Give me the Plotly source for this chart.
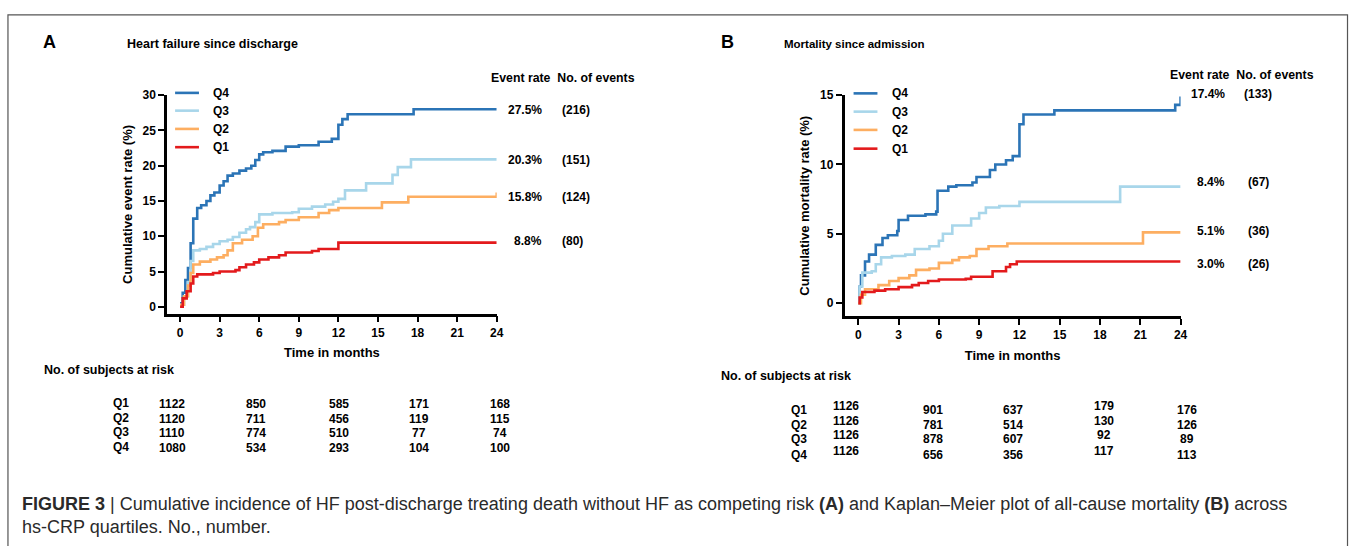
import plotly.graph_objects as go

W, H = 1357, 546

# ---------------- data ----------------
groups = ["Q4", "Q3", "Q2", "Q1"]
colors = {"Q4": "#2b74b6", "Q3": "#a8d6ea", "Q2": "#fdae61", "Q1": "#e31a1c"}

# Panel A: Heart failure since discharge (cumulative event rate %, months)
A_Q4_t = [0, 0.2, 0.4, 0.6, 0.8, 1.0, 1.3, 1.6, 2.0, 2.3, 2.6, 3.0, 3.3, 3.6, 4.0, 4.5, 5.0, 5.4, 5.7, 6.0, 6.3, 7.0, 8.0, 9.0, 10.5, 11.5, 12.0, 12.3, 12.7, 17.7, 24.0]
A_Q4_v = [0.5, 2.0, 3.8, 5.5, 9.0, 12.5, 14.0, 14.4, 15.0, 15.8, 16.2, 17.2, 17.8, 18.6, 18.9, 19.3, 19.6, 20.0, 20.8, 21.6, 21.9, 22.1, 22.7, 22.9, 23.4, 23.8, 25.8, 26.6, 27.3, 28.0, 28.0]
A_Q3_t = [0, 0.3, 0.6, 0.8, 1.0, 1.5, 2.0, 2.5, 3.0, 3.6, 4.0, 4.5, 5.0, 5.3, 5.7, 6.0, 7.0, 8.5, 9.0, 10.0, 11.0, 11.6, 12.0, 12.5, 14.1, 16.1, 16.5, 17.5, 24.0]
A_Q3_v = [0.3, 1.5, 3.5, 6.5, 8.0, 8.2, 8.5, 8.9, 9.3, 9.5, 9.9, 10.5, 11.0, 11.3, 12.0, 13.1, 13.3, 13.4, 13.9, 14.2, 14.5, 14.9, 15.3, 16.5, 17.5, 18.7, 19.8, 20.9, 20.9]
A_Q2_t = [0, 0.3, 0.6, 0.8, 1.0, 1.5, 2.3, 2.8, 3.3, 3.6, 4.0, 4.7, 5.5, 5.9, 6.3, 7.5, 8.0, 9.0, 10.5, 11.3, 12.0, 15.3, 17.3, 24.0]
A_Q2_v = [0.3, 1.5, 3.0, 4.8, 6.0, 6.4, 6.7, 7.0, 7.3, 8.0, 9.0, 9.5, 10.0, 11.2, 11.7, 12.0, 12.3, 12.7, 13.3, 13.7, 14.0, 14.8, 15.6, 16.2]
A_Q1_t = [0, 0.2, 0.5, 0.8, 1.0, 1.3, 2.5, 3.0, 4.2, 4.5, 5.0, 5.6, 6.0, 6.7, 7.5, 8.0, 10.0, 10.5, 12.0, 24.0]
A_Q1_v = [0.0, 1.2, 2.2, 3.3, 4.3, 4.6, 4.8, 5.0, 5.2, 5.6, 6.0, 6.3, 6.7, 7.0, 7.3, 7.7, 7.9, 8.2, 9.1, 9.1]

# Panel B: Mortality since admission (cumulative mortality rate %, months)
B_Q4_t = [0, 0.1, 0.2, 0.5, 0.8, 1.3, 1.8, 2.2, 2.9, 3.0, 3.7, 5.0, 5.8, 5.9, 6.7, 7.3, 8.5, 8.8, 9.8, 10.2, 11.0, 11.5, 12.0, 12.3, 14.6, 23.6, 24.0]
B_Q4_v = [0.0, 1.2, 2.0, 3.0, 3.5, 4.2, 4.7, 4.9, 5.2, 6.0, 6.3, 6.4, 6.6, 8.1, 8.4, 8.5, 8.7, 9.1, 9.6, 10.0, 10.3, 10.6, 12.9, 13.6, 13.9, 14.3, 14.9]
B_Q3_t = [0, 0.1, 0.3, 1.0, 1.3, 1.7, 2.5, 3.5, 4.2, 5.3, 6.0, 6.3, 7.0, 8.4, 9.0, 9.5, 10.5, 12.0, 19.5, 24.0]
B_Q3_v = [0.0, 1.2, 2.2, 2.3, 2.8, 3.3, 3.4, 3.5, 3.9, 4.1, 4.5, 5.0, 5.6, 6.1, 6.5, 6.9, 7.0, 7.3, 8.4, 8.4]
B_Q2_t = [0, 0.2, 0.5, 1.5, 2.3, 3.0, 3.8, 4.3, 5.3, 6.0, 7.0, 7.5, 8.3, 8.8, 9.7, 11.1, 21.2, 24.0]
B_Q2_v = [0.0, 0.6, 1.0, 1.3, 1.6, 1.8, 2.0, 2.4, 2.5, 2.9, 3.1, 3.3, 3.4, 3.9, 4.1, 4.3, 5.1, 5.1]
B_Q1_t = [0, 0.1, 0.3, 1.2, 2.0, 3.0, 4.0, 4.5, 5.2, 6.0, 8.0, 8.4, 10.0, 11.0, 11.3, 11.8, 24.0]
B_Q1_v = [0.0, 0.4, 0.8, 0.9, 1.0, 1.15, 1.3, 1.45, 1.6, 1.7, 1.75, 1.9, 2.3, 2.6, 2.8, 3.0, 3.0]

A_series = {"Q4": (A_Q4_t, A_Q4_v), "Q3": (A_Q3_t, A_Q3_v), "Q2": (A_Q2_t, A_Q2_v), "Q1": (A_Q1_t, A_Q1_v)}
B_series = {"Q4": (B_Q4_t, B_Q4_v), "Q3": (B_Q3_t, B_Q3_v), "Q2": (B_Q2_t, B_Q2_v), "Q1": (B_Q1_t, B_Q1_v)}

A_event_rate = ["27.5%", "20.3%", "15.8%", "8.8%"]
A_events = ["(216)", "(151)", "(124)", "(80)"]
B_event_rate = ["17.4%", "8.4%", "5.1%", "3.0%"]
B_events = ["(133)", "(67)", "(36)", "(26)"]

risk_groups = ["Q1", "Q2", "Q3", "Q4"]
A_risk = {"Q1": [1122, 850, 585, 171, 168], "Q2": [1120, 711, 456, 119, 115],
          "Q3": [1110, 774, 510, 77, 74], "Q4": [1080, 534, 293, 104, 100]}
B_risk = {"Q1": [1126, 901, 637, 179, 176], "Q2": [1126, 781, 514, 130, 126],
          "Q3": [1126, 878, 607, 92, 89], "Q4": [1126, 656, 356, 117, 113]}

x_ticks = [0, 3, 6, 9, 12, 15, 18, 21, 24]
A_y_ticks = [0, 5, 10, 15, 20, 25, 30]
B_y_ticks = [0, 5, 10, 15]

caption1 = ("<b>FIGURE 3</b> | Cumulative incidence of HF post-discharge treating death without HF as competing risk "
            "<b>(A)</b> and Kaplan\u2013Meier plot of all-cause mortality <b>(B)</b> across")
caption2 = "hs-CRP quartiles. No., number."

# ---------------- helpers ----------------
def px(x):
    return x / W

def py(y):
    return 1 - y / H

FONT = "Liberation Sans, Arial, sans-serif"

fig = go.Figure()
for g in groups:
    t, v = A_series[g]
    fig.add_trace(go.Scatter(x=t, y=v, mode="lines", line=dict(color=colors[g], width=2.6, shape="hv"),
                             xaxis="x", yaxis="y", showlegend=False))
for g in groups:
    t, v = B_series[g]
    fig.add_trace(go.Scatter(x=t, y=v, mode="lines", line=dict(color=colors[g], width=2.6, shape="hv"),
                             xaxis="x2", yaxis="y2", showlegend=False))

axis_common = dict(showgrid=False, zeroline=False, showline=True, linecolor="black", linewidth=2.5,
                   ticks="outside", ticklen=6, tickwidth=2, tickcolor="black",
                   tickfont=dict(family=FONT, size=12, color="black", weight="bold"))

fig.update_layout(
    width=W, height=H, margin=dict(l=0, r=0, t=0, b=0),
    paper_bgcolor="white", plot_bgcolor="white",
    xaxis=dict(domain=[px(168), px(499.3)], range=[-0.98, 24], tickvals=x_ticks, anchor="y",
               title=dict(text="Time in months", font=dict(family=FONT, size=13, weight="bold", color="black"), standoff=10),
               **axis_common),
    yaxis=dict(domain=[py(310.7), py(89.3)], range=[-0.98, 30], tickvals=A_y_ticks, anchor="x",
               title=dict(text="Cumulative event rate (%)", font=dict(family=FONT, size=13, weight="bold", color="black"), standoff=8),
               **axis_common),
    xaxis2=dict(domain=[px(849), px(1186.7)], range=[-1.02, 24], tickvals=x_ticks, anchor="y2",
                title=dict(text="Time in months", font=dict(family=FONT, size=13, weight="bold", color="black"), standoff=10),
                **axis_common),
    yaxis2=dict(domain=[py(313.3), py(89.3)], range=[-0.95, 15], tickvals=B_y_ticks, anchor="x2",
                title=dict(text="Cumulative mortality rate (%)", font=dict(family=FONT, size=13, weight="bold", color="black"), standoff=8),
                **axis_common),
)

ann = []
shapes = []

def text(x, y, s, size=12, family=FONT, bold=True, xanchor="left", color="black"):
    ann.append(dict(x=px(x), y=py(y), xref="paper", yref="paper", text=s, showarrow=False,
                    xanchor=xanchor, yanchor="middle",
                    font=dict(family=family, size=size, color=color, weight="bold" if bold else "normal")))

# panel labels and titles
text(41, 35, "A", size=18)
text(126, 37, "Heart failure since discharge", size=12.5)
text(723, 35, "B", size=18)
text(786, 37, "Mortality since admission", size=11.5)

# event rate headers
text(492, 72, "Event rate  No. of events", size=12.3)
text(1174, 69, "Event rate  No. of events", size=12.3)

A_lab_y = [104, 155, 192, 237]
for i in range(4):
    text(547, A_lab_y[i], A_event_rate[i], xanchor="right")
    text(563, A_lab_y[i], A_events[i])
B_lab_y = [88, 177, 227, 260]
for i in range(4):
    text(1233, B_lab_y[i], B_event_rate[i], xanchor="right")
    text(1248 if i == 0 else 1252, B_lab_y[i], B_events[i])

# legends
A_leg_y = [87, 105, 123.5, 142]
B_leg_y = [87.5, 106, 124.5, 143.5]
for i, g in enumerate(groups):
    shapes.append(dict(type="line", xref="paper", yref="paper", x0=px(176), x1=px(200), y0=py(A_leg_y[i]), y1=py(A_leg_y[i]),
                       line=dict(color=colors[g], width=2.6)))
    text(212, A_leg_y[i], g, size=12)
    shapes.append(dict(type="line", xref="paper", yref="paper", x0=px(858), x1=px(882), y0=py(B_leg_y[i]), y1=py(B_leg_y[i]),
                       line=dict(color=colors[g], width=2.6)))
    text(895, B_leg_y[i], g, size=12)

# risk tables
text(42, 368, "No. of subjects at risk", size=12.5)
text(723, 374, "No. of subjects at risk", size=12.5)
A_cols = [173, 257, 341, 421, 503]
A_rows = [402.5, 417, 432, 447]
B_cols = [850, 938, 1018, 1110, 1193]
B_col_dy = [-4, 0, 0, -4, 0]
B_rows = [408, 423, 438, 453.5]
for r, g in enumerate(risk_groups):
    text(112, A_rows[r] - 1, g, size=12)
    for c, val in enumerate(A_risk[g]):
        text(A_cols[c], A_rows[r], str(val), size=12, xanchor="center")
    text(793, B_rows[r], g, size=12)
    for c, val in enumerate(B_risk[g]):
        text(B_cols[c], B_rows[r] + B_col_dy[c], str(val), size=12, xanchor="center")

# caption
text(20, 503, caption1, size=18, bold=False, color="#2a2a2a")
text(20, 527, caption2, size=18, bold=False, color="#2a2a2a")

# border
shapes.append(dict(type="rect", xref="paper", yref="paper", x0=px(8), x1=px(1354.5), y0=-0.1, y1=py(8),
                   line=dict(color="#555555", width=1.2), fillcolor="rgba(0,0,0,0)"))

fig.update_layout(annotations=ann, shapes=shapes)
fig.write_html(
    "out.html",
    config={"displayModeBar": False},
    post_script=("document.documentElement.style.margin='0';document.body.style.margin='0';"
                 "document.body.style.overflow='hidden';"
                 "var d=document.getElementById('{plot_id}');d.style.position='fixed';"
                 "d.style.top='0px';d.style.left='0px';"),
)
